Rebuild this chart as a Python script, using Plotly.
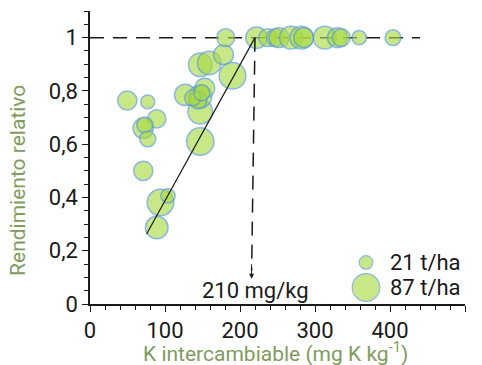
import plotly.graph_objects as go

# K intercambiable (mg K/kg)
k_values = [49.7, 77, 89, 71, 73, 77, 71, 147, 147, 127, 147, 153, 144, 137, 149,
            147, 159, 178, 190, 181, 222, 237, 247, 252, 268, 282, 285, 313, 330,
            335, 359, 404, 94, 104, 89]
# Rendimiento relativo
rel_yield = [0.764, 0.759, 0.695, 0.66, 0.672, 0.62, 0.50, 0.61, 0.722, 0.785, 0.779,
             0.81, 0.766, 0.774, 0.793, 0.898, 0.905, 0.936, 0.857, 1.0, 1.0, 1.0,
             1.0, 1.0, 1.0, 1.0, 1.0, 1.0, 1.0, 1.0, 1.0, 1.0, 0.381, 0.406, 0.287]
# Rendimiento absoluto (t/ha) -> tamaño de burbuja
abs_yield = [42, 22, 38, 47, 29, 29, 42, 85, 69, 52, 60, 45, 36, 29, 29,
             63, 63, 45, 81, 36, 52, 36, 36, 45, 60, 60, 45, 60, 45,
             36, 23, 28, 80, 23, 58]

legend_yields = [21, 87]
legend_labels = ["21 t/ha", "87 t/ha"]
legend_x = [368, 368]
legend_y = [0.156, 0.062]

critical_k = 220
fit_start = (75.5, 0.263)
arrow_end_y = 0.095
label_text = "210 mg/kg"

y_ticks = [0, 0.2, 0.4, 0.6, 0.8, 1.0]
y_tick_text = ["0", "0,2", "0,4", "0,6", "0,8", "1"]
x_ticks = [0, 100, 200, 300, 400, 500]

FONT = "Roboto, Liberation Sans, sans-serif"
FS = 21
TFS = 22
FILL = "rgba(169,217,66,0.9)"
LEG_FILL = "#b2dd55"
EDGE = "#5b9bd5"
TITLE_COLOR = "#7f9b5e"
INK = "#1a1a1a"
SIZEREF = 0.228

fig = go.Figure()

fig.add_trace(go.Scatter(
    x=k_values, y=rel_yield, mode="markers",
    marker=dict(size=abs_yield, sizemode="area", sizeref=SIZEREF, sizemin=1,
                color=FILL, line=dict(color=EDGE, width=1.5)),
    showlegend=False, hoverinfo="skip", cliponaxis=False))

# legend bubbles
fig.add_trace(go.Scatter(
    x=legend_x, y=legend_y, mode="markers",
    marker=dict(size=legend_yields, sizemode="area", sizeref=SIZEREF,
                color=LEG_FILL, line=dict(color=EDGE, width=1.2)),
    showlegend=False, hoverinfo="skip"))
for lx, ly, lt in zip(legend_x, legend_y, legend_labels):
    fig.add_annotation(x=lx + 29, y=ly, text=lt, showarrow=False, xanchor="left",
                       yanchor="middle", font=dict(family=FONT, size=TFS, color=INK))

# dashed horizontal line at 1
fig.add_shape(type="line", x0=0, x1=440, y0=1, y1=1, xref="x", yref="y",
              line=dict(color=INK, width=1.5, dash="14px,9px"), layer="below")
# dashed vertical line
fig.add_shape(type="line", x0=critical_k, x1=critical_k - 4.5, y0=1, y1=arrow_end_y + 0.03,
              xref="x", yref="y", line=dict(color=INK, width=1.5, dash="14px,9px"))
# arrow head
fig.add_annotation(x=critical_k - 4.6, y=arrow_end_y, ax=0, ay=-16,
                   xref="x", yref="y", showarrow=True, standoff=0,
                   arrowhead=2, arrowsize=1, arrowwidth=1, arrowcolor=INK, text="")
# fitted line
fig.add_shape(type="line", x0=fit_start[0], y0=fit_start[1], x1=critical_k, y1=1.0,
              xref="x", yref="y", line=dict(color=INK, width=1.2))

fig.add_annotation(x=critical_k + 1, y=0.052, text=label_text, showarrow=False,
                   xanchor="center", yanchor="middle",
                   font=dict(family=FONT, size=TFS, color=INK))

# axis titles
fig.add_annotation(x=0.495, y=-0.163, xref="paper", yref="paper",
                   text="K intercambiable (mg K kg<sup>-1</sup>)", showarrow=False,
                   xanchor="center", yanchor="middle",
                   font=dict(family=FONT, size=FS, color=TITLE_COLOR))
fig.add_annotation(x=-0.192, y=0.42, xref="paper", yref="paper",
                   text="Rendimiento relativo", showarrow=False, textangle=-90,
                   xanchor="center", yanchor="middle",
                   font=dict(family=FONT, size=FS, color=TITLE_COLOR))

fig.update_layout(
    width=482, height=365,
    margin=dict(l=90, r=17, t=11, b=61, autoexpand=False),
    paper_bgcolor="white", plot_bgcolor="white",
    font=dict(family=FONT, size=FS, color=INK),
    xaxis=dict(range=[0, 500], tickvals=x_ticks, showgrid=False, zeroline=False,
               automargin=False,
               showline=True, linecolor=INK, linewidth=1.5,
               ticks="outside", ticklen=6, tickwidth=1.2, tickcolor=INK,
               minor=dict(dtick=20, ticks="outside", ticklen=4, tickcolor=INK, tickwidth=1),
               tickfont=dict(family=FONT, size=TFS, color=INK)),
    yaxis=dict(range=[0, 1.1], tickvals=y_ticks, ticktext=y_tick_text, showgrid=False,
               automargin=False,
               zeroline=False, showline=True, linecolor=INK, linewidth=1.5,
               ticks="outside", ticklen=6, tickwidth=1.2, tickcolor=INK,
               minor=dict(dtick=0.05, ticks="outside", ticklen=4, tickcolor=INK, tickwidth=1),
               tickfont=dict(family=FONT, size=TFS, color=INK)),
)

fig.write_html("out.html", config={"displayModeBar": False},
               post_script="document.body.style.margin='0';document.body.style.overflow='hidden';")
